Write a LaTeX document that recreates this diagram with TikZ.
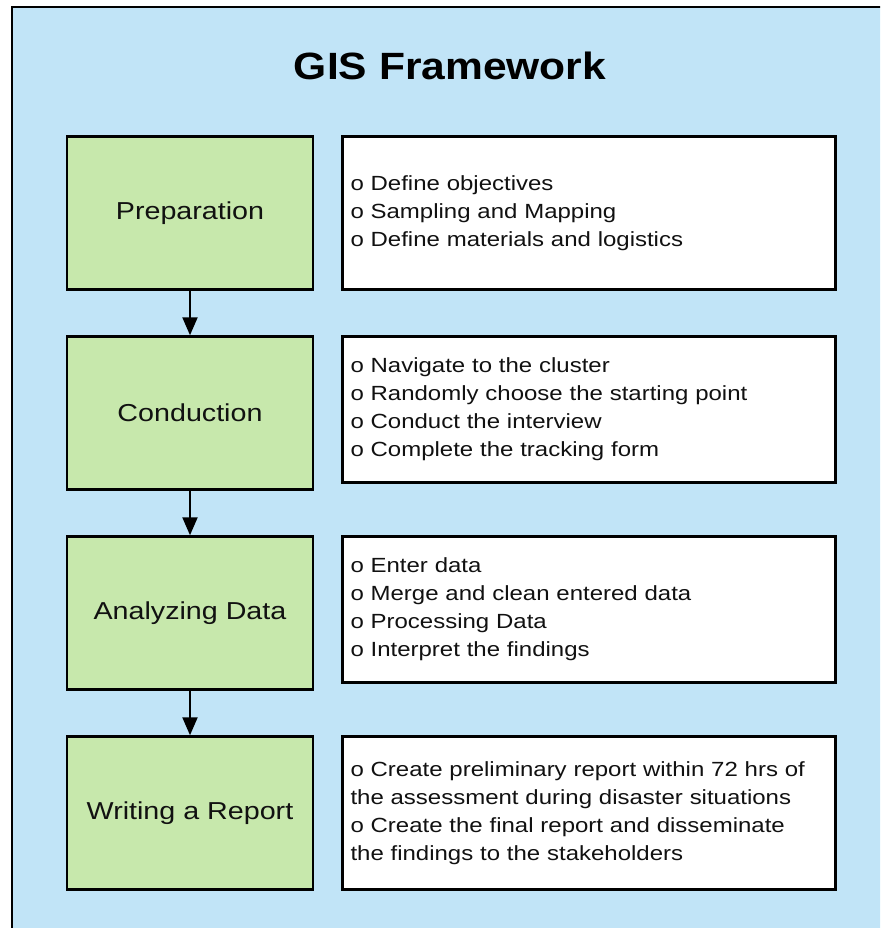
\documentclass[tikz,border=0pt]{standalone}
\usepackage{fontspec}
\setmainfont[FakeStretch=1.17]{Liberation Sans}
\newfontfamily\titlefont[FakeStretch=1.12]{Liberation Sans}
\usepackage{tikz}
\usetikzlibrary{arrows.meta, positioning}
\definecolor{FrameBlue}{HTML}{C1E4F7}
\definecolor{StepGreen}{HTML}{C7E8AC}
\definecolor{TextDark}{HTML}{111111}

\begin{document}
\begin{tikzpicture}[
        phase/.style={rectangle, draw=black, line width=2.5pt, fill=StepGreen, minimum width=246pt, minimum height=153pt, align=center, font=\fontsize{24.5}{29}\selectfont, text=TextDark},
        tasks/.style={rectangle, draw=black, line width=2.5pt, fill=white, text width=477pt, inner xsep=8pt, minimum height=153pt, align=left, font=\fontsize{20.5}{28}\selectfont, text=TextDark},
        arr/.style={-{Triangle[width=15pt, length=18pt]}, line width=2.2pt, black}
      ]
        \useasboundingbox (0,0) rectangle (880pt,-928pt);
        \clip (0,0) rectangle (880pt,-928pt);
        \draw[line width=2.8pt, fill=FrameBlue] (12pt,-7pt) rectangle (920pt,-960pt);

        \node[font=\titlefont\bfseries\fontsize{38}{44}\selectfont] (title) at (450pt,-66pt) {GIS Framework};

        \node[phase] (prep) at (190pt,-213pt) {Preparation};
        \node[phase, below=44.5pt of prep] (cond) {Conduction};
        \node[phase, below=44.5pt of cond] (anal) {Analyzing Data};
        \node[phase, below=44.5pt of anal] (report) {Writing a Report};

        \node[tasks, right=27pt of prep.north east, anchor=north west] (prepitems) {o Define objectives\\ o Sampling and Mapping\\ o Define materials and logistics};
        \node[tasks, minimum height=146pt, right=27pt of cond.north east, anchor=north west] (conditems) {o Navigate to the cluster\\ o Randomly choose the starting point\\ o Conduct the interview\\ o Complete the tracking form};
        \node[tasks, minimum height=146pt, right=27pt of anal.north east, anchor=north west] (analitems) {o Enter data\\ o Merge and clean entered data\\ o Processing Data\\ o Interpret the findings};
        \node[tasks, right=27pt of report.north east, anchor=north west] (reportitems) {o Create preliminary report within 72 hrs of\\ the assessment during disaster situations\\ o Create the final report and disseminate\\ the findings to the stakeholders};

        \draw[arr] (prep) -- (cond);
        \draw[arr] (cond) -- (anal);
        \draw[arr] (anal) -- (report);
      \end{tikzpicture}
\end{document}
